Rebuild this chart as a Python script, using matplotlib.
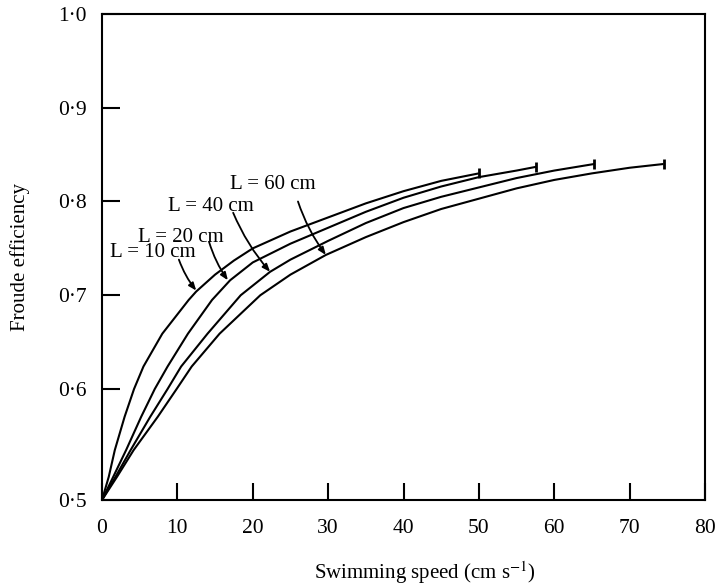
import numpy as np
import matplotlib.pyplot as plt

plt.rcParams['font.family'] = ['Liberation Serif', 'DejaVu Serif']
plt.rcParams['mathtext.fontset'] = 'stix'

# curves (speed in cm/s, Froude efficiency)
x10 = [0, 0.9, 1.7, 3.0, 4.25, 5.5, 8.0, 11.5, 12.5, 15, 17.5, 20, 25, 30, 35, 40, 45, 50]
y10 = [0.5, 0.521, 0.545, 0.575, 0.6, 0.624, 0.659, 0.695, 0.704, 0.722, 0.737, 0.750,
       0.768, 0.783, 0.798, 0.811, 0.822, 0.830]

x20 = [0, 1.5, 3.2, 5.2, 7.0, 8.7, 11.4, 14.6, 17, 20, 25, 30, 35, 40, 45, 50, 55, 57.6]
y20 = [0.5, 0.521, 0.545, 0.575, 0.6, 0.624, 0.659, 0.695, 0.716, 0.735, 0.755, 0.772,
       0.789, 0.804, 0.816, 0.826, 0.833, 0.837]

x40 = [0, 1.8, 3.8, 6.4, 8.7, 10.5, 14.0, 18.4, 22.3, 25, 30, 35, 40, 45, 50, 55, 60, 65.3]
y40 = [0.5, 0.521, 0.545, 0.575, 0.6, 0.624, 0.659, 0.7, 0.725, 0.738, 0.758, 0.777,
       0.793, 0.805, 0.815, 0.825, 0.833, 0.840]

x60 = [0, 2.0, 4.2, 7.4, 9.9, 11.9, 15.6, 21, 25, 29.7, 35, 40, 45, 50, 55, 60, 65, 70, 74.5]
y60 = [0.5, 0.521, 0.545, 0.575, 0.6, 0.624, 0.659, 0.7, 0.722, 0.743, 0.762, 0.778,
       0.792, 0.803, 0.814, 0.823, 0.830, 0.836, 0.840]

curves = [(x10, y10), (x20, y20), (x40, y40), (x60, y60)]

labels = ['L = 10 cm', 'L = 20 cm', 'L = 40 cm', 'L = 60 cm']
label_pos = [(6.8, 0.746), (10.5, 0.762), (14.4, 0.795), (22.7, 0.818)]
arrow_from = [(10.2, 0.738), (14.2, 0.757), (17.4, 0.788), (26.0, 0.800)]
arrow_to = [(12.5, 0.705), (16.7, 0.716), (22.3, 0.725), (29.7, 0.743)]

xticks = [0, 10, 20, 30, 40, 50, 60, 70, 80]
yticks = [0.5, 0.6, 0.7, 0.8, 0.9, 1.0]
ytick_labels = ['0·5', '0·6', '0·7', '0·8', '0·9', '1·0']

# the printed y axis is not uniform: 0.5-0.6 is drawn taller than the rest
y_anchor = [0.4, 0.5, 0.6, 1.0, 1.1]
y_pix = [-111, 0, 111, 486, 580]


def fwd(v):
    return np.interp(v, y_anchor, y_pix)


def inv(v):
    return np.interp(v, y_pix, y_anchor)


fig = plt.figure(figsize=(7.15, 5.87), dpi=100)
ax = fig.add_axes([102 / 715, 1 - 500 / 587, 603 / 715, 486 / 587])
ax.set_yscale('function', functions=(fwd, inv))

for cx, cy in curves:
    ax.plot(cx, cy, color='black', lw=1.5, solid_capstyle='butt', solid_joinstyle='round')
    ax.plot(cx[-1], cy[-1], marker='|', ms=7, mew=2, color='black')

for lab, lp, a0, a1 in zip(labels, label_pos, arrow_from, arrow_to):
    ax.text(lp[0], lp[1], lab, fontsize=15, ha='center', va='center')
    ax.annotate('', xy=a1, xytext=a0,
                arrowprops=dict(arrowstyle='-|>,head_length=0.45,head_width=0.18',
                                color='black', lw=1.3, shrinkA=0, shrinkB=0,
                                connectionstyle='arc3,rad=0.08'))

ax.set_xlim(0, 80)
ax.set_ylim(0.5, 1.0)
ax.set_xticks(xticks)
ax.set_yticks(yticks)
ax.set_yticklabels(ytick_labels)
ax.minorticks_off()

ax.tick_params(axis='x', direction='in', length=12, width=1.5, labelsize=15.5, pad=14)
ax.tick_params(axis='y', direction='in', length=13, width=1.5, labelsize=15.5, pad=11)
for sp in ax.spines.values():
    sp.set_linewidth(1.5)

ax.set_xlabel('Swimming speed (cm s$^{-1}$)', fontsize=15, labelpad=15)
ax.xaxis.label.set_x(0.535)
ax.set_ylabel('Froude efficiency', fontsize=15, labelpad=20)

fig.savefig('out.png', dpi=100)
